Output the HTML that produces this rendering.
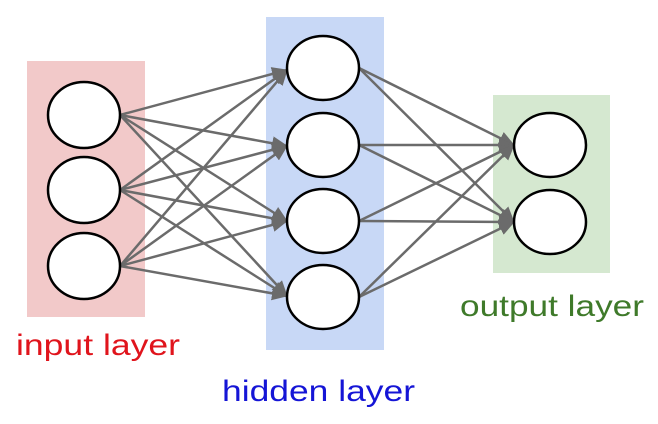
<!DOCTYPE html>
<html><head><style>html,body{margin:0;padding:0;background:#fff}svg{display:block}</style></head>
<body>
<svg width="658" height="424" viewBox="0 0 658 424" xmlns="http://www.w3.org/2000/svg">
<defs>
<marker id="b" markerWidth="16" markerHeight="14" refX="15" refY="7" orient="auto" markerUnits="userSpaceOnUse">
<path d="M0,0 L16,7 L0,14 z" fill="#6b6b6b"/>
</marker>
</defs>
<rect x="27" y="61" width="118" height="256" fill="#f2c9c9"/>
<rect x="266" y="17" width="118" height="333" fill="#c8d8f6"/>
<rect x="493" y="95" width="117" height="178" fill="#d5e8d0"/>
<g stroke="#6b6b6b" stroke-width="2.5" marker-end="url(#b)">
<line x1="120" y1="115" x2="287" y2="70"/><line x1="120" y1="115" x2="287" y2="146"/><line x1="120" y1="115" x2="287" y2="221"/><line x1="120" y1="115" x2="287" y2="296"/>
<line x1="120" y1="190" x2="287" y2="70"/><line x1="120" y1="190" x2="287" y2="146"/><line x1="120" y1="190" x2="287" y2="221"/><line x1="120" y1="190" x2="287" y2="296"/>
<line x1="120" y1="266" x2="287" y2="70"/><line x1="120" y1="266" x2="287" y2="146"/><line x1="120" y1="266" x2="287" y2="221"/><line x1="120" y1="266" x2="287" y2="296"/>
<line x1="359" y1="68" x2="514" y2="145"/><line x1="359" y1="68" x2="514" y2="222"/>
<line x1="359" y1="145" x2="514" y2="145"/><line x1="359" y1="145" x2="514" y2="222"/>
<line x1="359" y1="221" x2="514" y2="145"/><line x1="359" y1="221" x2="514" y2="222"/>
<line x1="359" y1="297" x2="514" y2="145"/><line x1="359" y1="297" x2="514" y2="222"/>
</g>
<g fill="#fff" stroke="#000" stroke-width="2.5">
<ellipse cx="84" cy="115" rx="36" ry="33"/><ellipse cx="84" cy="190" rx="36" ry="33"/><ellipse cx="84" cy="266" rx="36" ry="33"/>
<ellipse cx="323" cy="68" rx="36" ry="32"/><ellipse cx="323" cy="145" rx="36" ry="32"/><ellipse cx="323" cy="221" rx="36" ry="32"/><ellipse cx="323" cy="297" rx="36" ry="32"/>
<ellipse cx="550" cy="145" rx="36" ry="32"/><ellipse cx="550" cy="222" rx="36" ry="32"/>
</g>
<g font-family="Liberation Sans, sans-serif" font-size="30">
<text x="16" y="355" fill="#e0141c" textLength="164" lengthAdjust="spacingAndGlyphs">input layer</text>
<text x="222" y="401" fill="#1515d6" textLength="193" lengthAdjust="spacingAndGlyphs">hidden layer</text>
<text x="460" y="316" fill="#3f7a2a" textLength="184" lengthAdjust="spacingAndGlyphs">output layer</text>
</g>
</svg>
</body></html>
